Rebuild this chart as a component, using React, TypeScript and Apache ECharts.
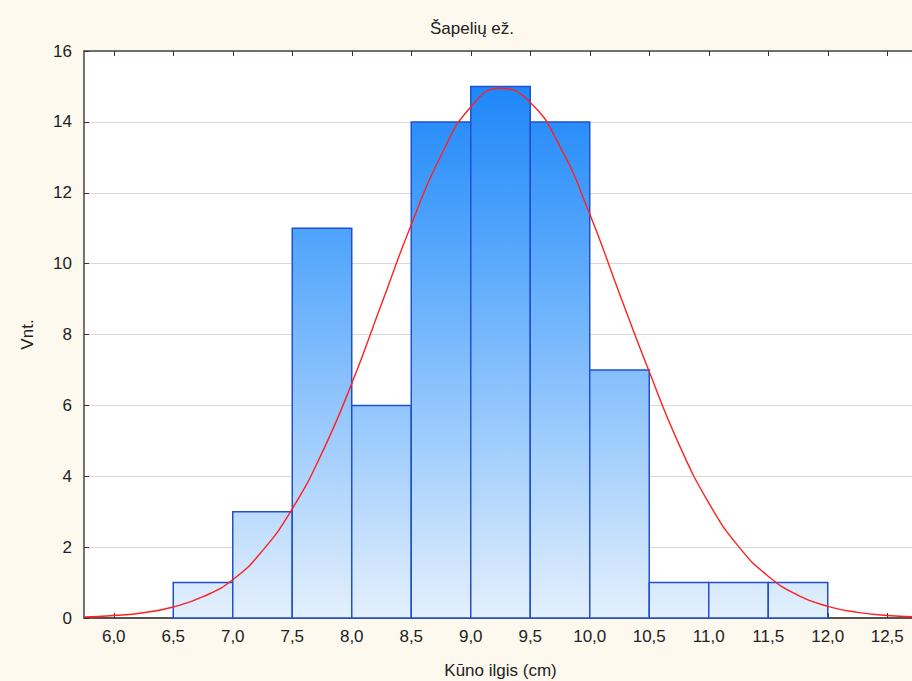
import React, { useEffect, useRef } from "react";
import * as echarts from "echarts";

const TITLE = "Šapelių ež.";
const X_NAME = "Kūno ilgis (cm)";
const Y_NAME = "Vnt.";

// histogram bins (left edge) and counts, bin width 0.5
const BIN_STARTS = [6.5, 7.0, 7.5, 8.0, 8.5, 9.0, 9.5, 10.0, 10.5, 11.0, 11.5];
const BIN_WIDTH = 0.5;
const COUNTS = [1, 3, 11, 6, 14, 15, 14, 7, 1, 1, 1];

// fitted normal curve
const CURVE_X = [5.75, 6.0, 6.25, 6.5, 6.75, 7.0, 7.25, 7.5, 7.75, 8.0, 8.25, 8.5, 8.75, 9.0, 9.25, 9.5, 9.75, 10.0, 10.25, 10.5, 10.75, 11.0, 11.25, 11.5, 11.75, 12.0, 12.25, 12.5, 12.75];
const CURVE_Y = [0.03, 0.07, 0.15, 0.31, 0.6, 1.08, 1.9, 3.08, 4.66, 6.62, 8.86, 11.1, 13.05, 14.42, 14.95, 14.55, 13.3, 11.4, 9.15, 6.95, 4.9, 3.25, 2.02, 1.18, 0.64, 0.33, 0.16, 0.07, 0.03];

const X_TICKS = [6.0, 6.5, 7.0, 7.5, 8.0, 8.5, 9.0, 9.5, 10.0, 10.5, 11.0, 11.5, 12.0, 12.5];
const X_MIN = 5.75;
const X_MAX = 12.75;
const Y_MIN = 0;
const Y_MAX = 16;
const Y_STEP = 2;

const FONT = "Liberation Sans, Arial, sans-serif";

export default function App() {
  const ref = useRef<HTMLDivElement>(null);
  useEffect(() => {
    if (!ref.current) return;
    const chart = echarts.init(ref.current, undefined, { renderer: "svg" });
    const fmt = (v: number) => v.toFixed(1).replace(".", ",");
    chart.setOption({
      animation: false,
      backgroundColor: "#fdf9ee",
      title: {
        text: TITLE,
        left: 467,
        top: 15,
        textAlign: "center",
        textStyle: { fontFamily: FONT, fontSize: 17, fontWeight: "normal", color: "#222" },
      },
      grid: {
        left: 84,
        top: 51,
        right: -5,
        bottom: 63,
        containLabel: false,
        outerBoundsMode: "none",
        show: true,
        backgroundColor: "#ffffff",
        borderWidth: 0,
      },
      xAxis: [
        {
          type: "value",
          min: X_MIN,
          max: X_MAX,
          position: "bottom",
          name: X_NAME,
          nameLocation: "middle",
          nameGap: 44,
          nameTextStyle: { fontFamily: FONT, fontSize: 17, color: "#222" },
          axisLine: { show: true, onZero: false, lineStyle: { color: "#555", width: 2 } },
          axisTick: { show: true, inside: true, length: 5, customValues: X_TICKS, lineStyle: { color: "#333" } },
          axisLabel: {
            customValues: X_TICKS,
            formatter: (v: number) => fmt(v),
            fontFamily: FONT,
            fontSize: 17,
            color: "#222",
            margin: 10,
          },
          splitLine: { show: false },
        },
        {
          type: "value",
          min: X_MIN,
          max: X_MAX,
          position: "top",
          axisLine: { show: true, onZero: false, lineStyle: { color: "#444", width: 1.5 } },
          axisTick: { show: true, inside: true, length: 5, customValues: X_TICKS, lineStyle: { color: "#333" } },
          axisLabel: { show: false },
          splitLine: { show: false },
        },
      ],
      yAxis: {
        type: "value",
        min: Y_MIN,
        max: Y_MAX,
        interval: Y_STEP,
        name: Y_NAME,
        nameLocation: "middle",
        nameGap: 48,
        nameRotate: 90,
        nameTextStyle: { fontFamily: FONT, fontSize: 17, color: "#222" },
        axisLine: { show: true, lineStyle: { color: "#444", width: 1.5 } },
        axisTick: { show: true, inside: true, length: 5, lineStyle: { color: "#333" } },
        axisLabel: { fontFamily: FONT, fontSize: 17, color: "#222", margin: 12 },
        splitLine: { show: true, lineStyle: { color: "#d9d9d9", width: 1 } },
      },
      series: [
        {
          type: "custom",
          xAxisIndex: 0,
          yAxisIndex: 0,
          data: BIN_STARTS.map((x, i) => [x, x + BIN_WIDTH, COUNTS[i]]),
          renderItem: (params: any, api: any) => {
            const x0 = api.value(0);
            const x1 = api.value(1);
            const v = api.value(2);
            const p0 = api.coord([x0, v]);
            const p1 = api.coord([x1, 0]);
            const yTop = api.coord([x0, Y_MAX])[1];
            const yBot = api.coord([x0, Y_MIN])[1];
            return {
              type: "rect",
              shape: { x: p0[0], y: p0[1], width: p1[0] - p0[0], height: p1[1] - p0[1] },
              style: {
                fill: new echarts.graphic.LinearGradient(
                  0, yTop, 0, yBot,
                  [
                    { offset: 0, color: "#1280f8" },
                    { offset: 0.35, color: "#56a7fc" },
                    { offset: 1, color: "#e4f0fd" },
                  ],
                  true
                ),
                stroke: "#2050d0",
                lineWidth: 1.5,
              },
            };
          },
          z: 2,
        },
        {
          type: "line",
          xAxisIndex: 0,
          yAxisIndex: 0,
          data: CURVE_X.map((x, i) => [x, CURVE_Y[i]]),
          smooth: true,
          showSymbol: false,
          lineStyle: { color: "#ff2020", width: 1.4 },
          z: 3,
        },
      ],
    });
    return () => chart.dispose();
  }, []);
  return (
    <div
      ref={ref}
      style={{ position: "fixed", left: 0, top: 0, width: 912, height: 681 }}
    />
  );
}
